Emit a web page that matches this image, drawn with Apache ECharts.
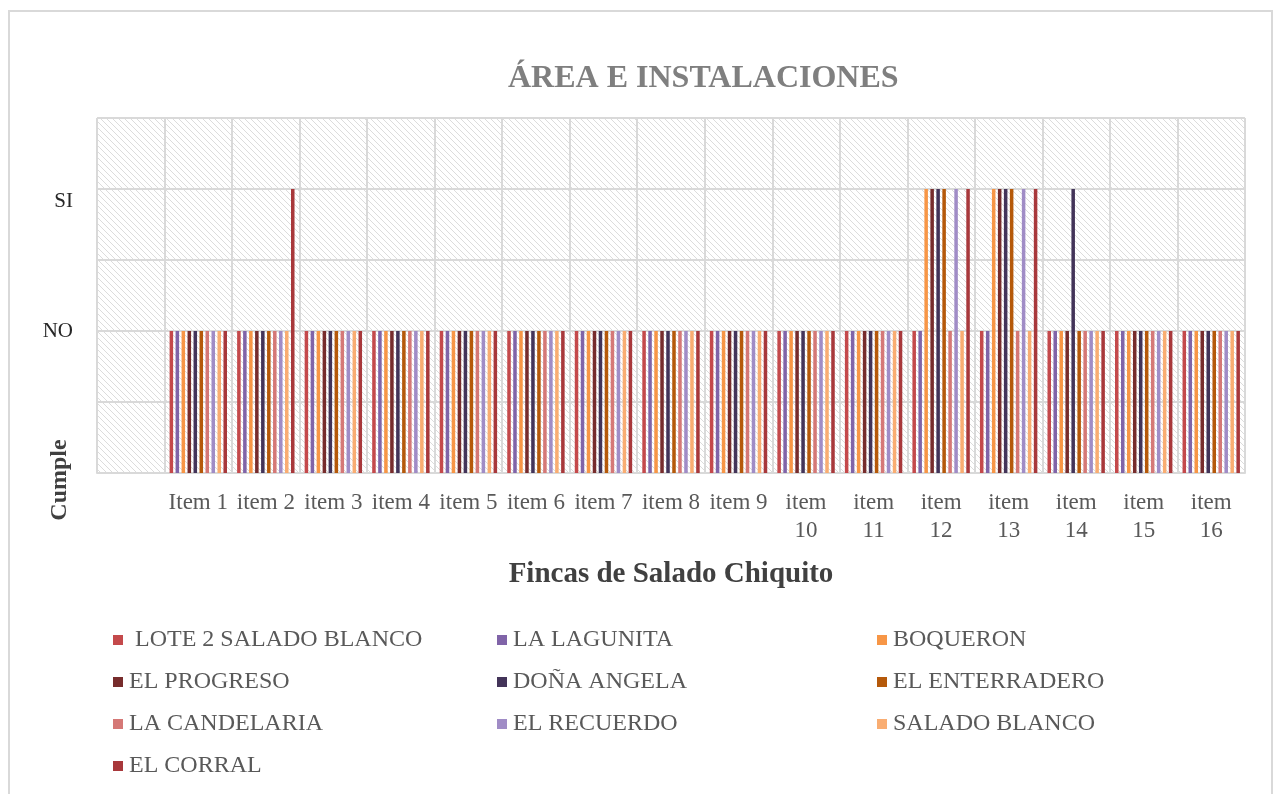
<!DOCTYPE html>
<html>
<head>
<meta charset="utf-8">
<script src="https://cdn.jsdelivr.net/npm/echarts@6/dist/echarts.min.js"></script>
<style>
  * { margin: 0; padding: 0; }
  body { background: #ffffff; }
  #mychart { width: 1275px; height: 794px; }
</style>
</head>
<body>
<div id="mychart"></div>
<script>
// categorias (la primera columna va vacia)
const categorias = ['', 'Item 1', 'item 2', 'item 3', 'item 4', 'item 5', 'item 6', 'item 7', 'item 8',
  'item 9', 'item\n10', 'item\n11', 'item\n12', 'item\n13', 'item\n14', 'item\n15', 'item\n16'];

// NO = 2, SI = 4 en el eje
const lote2SaladoBlanco = [null, 2, 2, 2, 2, 2, 2, 2, 2, 2, 2, 2, 2, 2, 2, 2, 2];
const laLagunita       = [null, 2, 2, 2, 2, 2, 2, 2, 2, 2, 2, 2, 2, 2, 2, 2, 2];
const boqueron         = [null, 2, 2, 2, 2, 2, 2, 2, 2, 2, 2, 2, 4, 4, 2, 2, 2];
const elProgreso       = [null, 2, 2, 2, 2, 2, 2, 2, 2, 2, 2, 2, 4, 4, 2, 2, 2];
const donaAngela       = [null, 2, 2, 2, 2, 2, 2, 2, 2, 2, 2, 2, 4, 4, 4, 2, 2];
const elEnterradero    = [null, 2, 2, 2, 2, 2, 2, 2, 2, 2, 2, 2, 4, 4, 2, 2, 2];
const laCandelaria     = [null, 2, 2, 2, 2, 2, 2, 2, 2, 2, 2, 2, 2, 2, 2, 2, 2];
const elRecuerdo       = [null, 2, 2, 2, 2, 2, 2, 2, 2, 2, 2, 2, 4, 4, 2, 2, 2];
const saladoBlanco     = [null, 2, 2, 2, 2, 2, 2, 2, 2, 2, 2, 2, 2, 2, 2, 2, 2];
const elCorral         = [null, 2, 4, 2, 2, 2, 2, 2, 2, 2, 2, 2, 4, 4, 2, 2, 2];

const etiquetasY = { 2: '{no|NO}', 4: '{si|SI}' };

const series = [
  { name: ' LOTE 2 SALADO BLANCO', data: lote2SaladoBlanco, color: '#c4494b' },
  { name: 'LA LAGUNITA', data: laLagunita, color: '#8064a8' },
  { name: 'BOQUERON', data: boqueron, color: '#f79646' },
  { name: 'EL PROGRESO', data: elProgreso, color: '#772c2c' },
  { name: 'DOÑA ANGELA', data: donaAngela, color: '#433459' },
  { name: 'EL ENTERRADERO', data: elEnterradero, color: '#b5590a' },
  { name: 'LA CANDELARIA', data: laCandelaria, color: '#d57876' },
  { name: 'EL RECUERDO', data: elRecuerdo, color: '#a08cc6' },
  { name: 'SALADO BLANCO', data: saladoBlanco, color: '#f9ad72' },
  { name: 'EL CORRAL', data: elCorral, color: '#a8383b' }
];

// trama diagonal del fondo
function hatch() {
  const c = document.createElement('canvas');
  c.width = 6; c.height = 6;
  const ctx = c.getContext('2d');
  ctx.fillStyle = '#ffffff';
  ctx.fillRect(0, 0, 6, 6);
  ctx.strokeStyle = '#dcdcdc';
  ctx.lineWidth = 1;
  ctx.beginPath();
  ctx.moveTo(-1, -1); ctx.lineTo(7, 7);
  ctx.moveTo(-1, 5); ctx.lineTo(1, 7);
  ctx.moveTo(5, -1); ctx.lineTo(7, 1);
  ctx.stroke();
  return c;
}

const serif = '"Liberation Serif", "DejaVu Serif", serif';
const leyenda = (left, nombres) => ({
  orient: 'vertical',
  left: left,
  top: 628,
  padding: 0,
  itemWidth: 10,
  itemHeight: 10,
  itemGap: 18,
  icon: 'rect',
  data: nombres,
  textStyle: { fontFamily: serif, fontSize: 24, color: '#595959', lineHeight: 22, padding: [0, 0, 0, 1] }
});

const myChart = echarts.init(document.getElementById('mychart'));
myChart.setOption({
  animation: false,
  backgroundColor: '#ffffff',
  title: {
    text: 'ÁREA E INSTALACIONES',
    left: 503,
    top: 58,
    textStyle: { fontFamily: serif, fontSize: 32, fontWeight: 'bold', color: '#7f7f7f' }
  },
  graphic: [
    {
      type: 'rect', silent: true, z: -1,
      shape: { x: 9, y: 11, width: 1263, height: 800 },
      style: { fill: 'none', stroke: '#d9d9d9', lineWidth: 2 }
    },
    {
      type: 'text', x: 60, y: 480, rotation: Math.PI / 2,
      style: {
        text: 'Cumple', fontFamily: serif, fontSize: 24, fontWeight: 'bold',
        fill: '#404040', align: 'center', verticalAlign: 'middle'
      }
    }
  ],
  legend: [
    leyenda(113, [' LOTE 2 SALADO BLANCO', 'EL PROGRESO', 'LA CANDELARIA', 'EL CORRAL']),
    leyenda(497, ['LA LAGUNITA', 'DOÑA ANGELA', 'EL RECUERDO']),
    leyenda(877, ['BOQUERON', 'EL ENTERRADERO', 'SALADO BLANCO'])
  ],
  grid: {
    left: 97, right: 30, top: 118, bottom: 321,
    show: true,
    borderWidth: 0,
    backgroundColor: { image: hatch(), repeat: 'repeat' }
  },
  xAxis: {
    type: 'category',
    data: categorias,
    axisTick: { show: false },
    axisLine: { lineStyle: { color: '#d9d9d9', width: 2 } },
    splitLine: { show: true, lineStyle: { color: '#d9d9d9', width: 2 } },
    axisLabel: { interval: 0, margin: 16, fontFamily: serif, fontSize: 23, color: '#595959', lineHeight: 28 },
    name: 'Fincas de Salado Chiquito',
    nameLocation: 'middle',
    nameGap: 87,
    nameTextStyle: { fontFamily: serif, fontSize: 29, fontWeight: 'bold', color: '#404040' }
  },
  yAxis: {
    type: 'value',
    min: 0, max: 5, interval: 1,
    axisLine: { show: false },
    axisTick: { show: false },
    splitLine: { lineStyle: { color: '#d9d9d9', width: 2 } },
    axisLabel: {
      margin: 24, fontFamily: serif, fontSize: 21, color: '#262626',
      formatter: v => etiquetasY[v] || '',
      rich: {
        no: { fontFamily: serif, fontSize: 21, color: '#262626' },
        si: { fontFamily: serif, fontSize: 21, color: '#262626', padding: [24, 0, 0, 0] }
      }
    }
  },
  series: series.map(s => ({
    type: 'bar',
    name: s.name,
    data: s.data,
    itemStyle: { color: s.color },
    barCategoryGap: '15%',
    barGap: '70%'
  }))
});
</script>
</body>
</html>
